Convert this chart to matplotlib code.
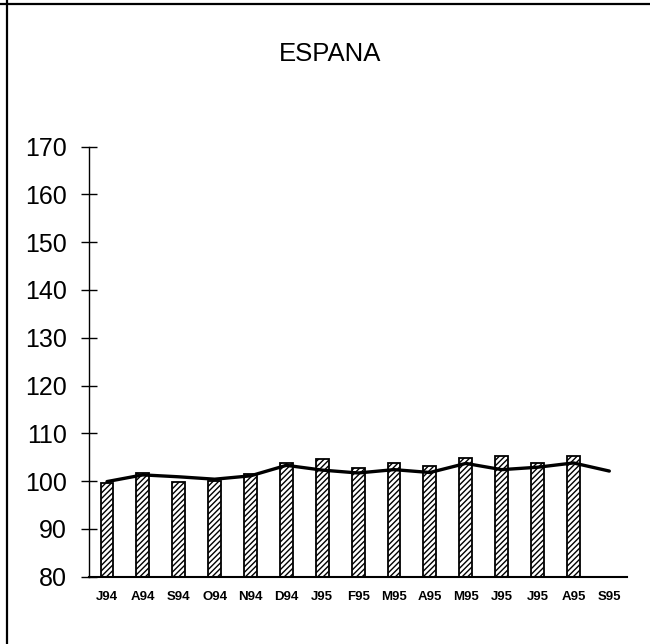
import matplotlib
matplotlib.use("Agg")
import matplotlib.pyplot as plt
import numpy as np
from matplotlib.lines import Line2D

plt.rcParams['font.family'] = ['Liberation Sans', 'DejaVu Sans']
plt.rcParams['hatch.linewidth'] = 1.0

# data
months = ['J94', 'A94', 'S94', 'O94', 'N94', 'D94', 'J95', 'F95',
          'M95', 'A95', 'M95', 'J95', 'J95', 'A95', 'S95']
bar_vals = [99.65, 101.7, 99.9, 100.0, 101.4, 103.7, 104.7, 102.65,
            103.7, 103.1, 104.9, 105.2, 103.8, 105.2, np.nan]
line_vals = [99.9, 101.3, 100.9, 100.4, 101.1, 103.3, 102.3, 101.7,
             102.4, 101.8, 103.7, 102.4, 102.9, 103.8, 102.1]
y_ticks = [80, 90, 100, 110, 120, 130, 140, 150, 160, 170]

fig = plt.figure(figsize=(6.5, 6.44), dpi=100)
ax = fig.add_axes([0.137, 0.1045, 0.828, 0.668])

x = np.arange(len(months))
ax.bar(x, np.array(bar_vals) - 80, bottom=80, width=0.36,
       color='white', edgecolor='black', linewidth=1.3, hatch='//////')
ax.plot(x, line_vals, color='black', linewidth=2.4,
        solid_joinstyle='round', solid_capstyle='round', zorder=5)

ax.set_ylim(80, 170)
ax.set_xlim(-0.5, 14.5)
ax.set_yticks(y_ticks)
ax.set_xticks(x)
ax.set_xticklabels(months, fontsize=9.5, fontweight='bold')
ax.tick_params(axis='y', direction='inout', length=12, width=1.0,
               pad=10, labelsize=18)
ax.tick_params(axis='x', length=0, pad=10)

for s in ['top', 'right']:
    ax.spines[s].set_visible(False)
ax.spines['left'].set_linewidth(1.0)
ax.spines['bottom'].set_linewidth(1.5)

fig.text(0.508, 0.916, 'ESPANA', ha='center', va='center', fontsize=18.5)

# frame lines of the scanned page
fig.add_artist(Line2D([0.0108, 0.0108], [0, 1], color='black', linewidth=1.6))
fig.add_artist(Line2D([0, 1], [0.9938, 0.9938], color='black', linewidth=1.6))

fig.savefig('out.png', dpi=100)
